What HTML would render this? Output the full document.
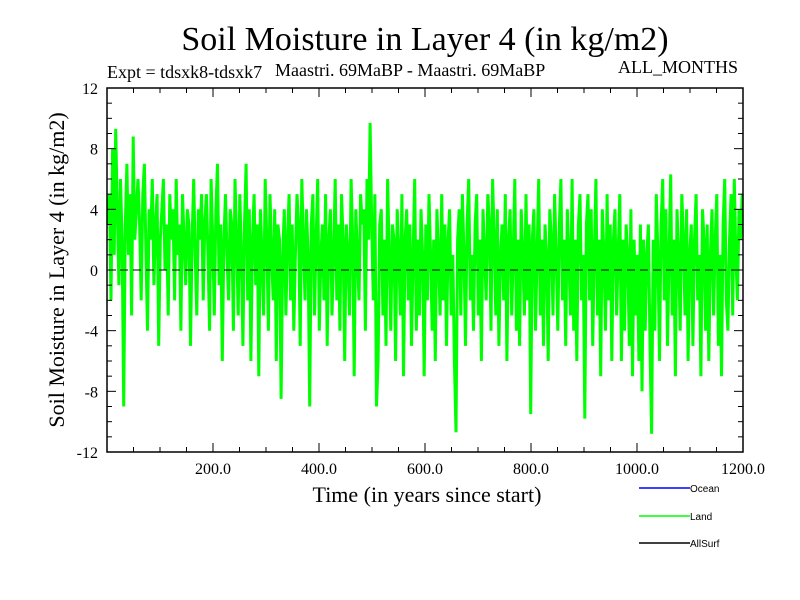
<!DOCTYPE html>
<html><head><meta charset="utf-8"><style>
body{margin:0;background:#fff;}
svg{display:block;font-family:"Liberation Serif",serif;}
</style></head><body>
<svg id="chart" width="800" height="600">
<text x="425" y="50" font-size="34" text-anchor="middle">Soil Moisture in Layer 4 (in kg/m2)</text>
<text x="107" y="78" font-size="18">Expt = tdsxk8-tdsxk7</text>
<text x="275" y="76" font-size="18">Maastri.  69MaBP - Maastri.  69MaBP</text>
<text x="618" y="73" font-size="18">ALL_MONTHS</text>
<text x="427" y="502" font-size="22" text-anchor="middle">Time (in years since start)</text>
<text transform="translate(64,270) rotate(-90)" font-size="22" text-anchor="middle">Soil Moisture in Layer 4 (in kg/m2)</text>
<g id="series"></g>
<g id="axes"></g>
<g font-family="Liberation Sans, sans-serif" font-size="10">
<line x1="639" y1="488" x2="690" y2="488" stroke="#0000ff" stroke-width="1.5"/>
<text x="690" y="492">Ocean</text>
<line x1="639" y1="516" x2="690" y2="516" stroke="#00ff00" stroke-width="1.5"/>
<text x="690" y="520">Land</text>
<line x1="639" y1="543" x2="690" y2="543" stroke="#000" stroke-width="1.5"/>
<text x="690" y="547">AllSurf</text>
</g>
</svg>
<script>
const years = [];
const landValues = [
3,5,-2,8,1,9.3,4,-1,6,2,-9,3,7,1,5,-3,8.8,2,4,6,
3,-2,5,7,1,-4,4,2,6,-1,3,5,-5,2,4,6,0,3,-3,5,
2,4,-2,6,1,3,-4,5,2,-1,4,3,-5,2,6,1,-3,4,2,5,
-2,3,5,1,-4,6,2,-3,4,7,-1,3,-6,2,5,1,-2,4,3,-4,
6,2,-3,5,1,-5,3,7,-2,4,-6,2,5,-1,3,-7,4,1,-3,6,
2,-4,5,1,-2,4,-6,3,2,-8.5,1,4,-3,2,5,-2,3,-4,1,5,
3,-5,6,2,-2,4,1,-9,3,5,-3,2,6,-4,1,3,-2,5,-5,2,
4,-3,1,6,-2,3,-4,5,2,-6,3,1,-3,6,2,-7,4,1,-2,5,
3,4,-4,6,2,9.7,3,-2,5,-9,-6,3,4,-3,2,-5,6,1,-4,3,
2,-6,4,1,-3,5,-7,2,4,-2,3,-5,1,6,-4,2,-3,4,1,-7,
3,-2,5,1,-4,2,-6,4,1,-3,5,-2,3,-5,2,4,-3,1,-6,-10.7,
2,4,-3,5,1,-5,3,6,-2,1,-4,3,5,-3,2,-6,4,1,-2,5,
3,-4,6,2,-3,4,-5,1,3,-2,5,-6,2,4,-3,1,6,-4,2,-5,
4,1,-3,5,-2,3,-9.5,2,4,-4,1,6,-3,2,-5,3,1,-6,4,2,
-3,5,1,-4,3,6,-2,2,-5,4,1,-3,6,-4,2,-6,3,5,-2,1,
-9.8,3,5,-2,4,-5,1,6,-3,2,-7,4,1,-4,5,-2,3,-6,2,4,
-3,1,5,-6,2,-4,3,1,-5,4,-7,2,-3,1,-6,3,-8,2,-4,1,
3,-5,-10.8,2,-4,5,1,-6,3,6,-2,4,-5,1,6.3,-3,2,-7,4,1,
-4,5,2,-3,4,-6,1,3,-5,2,5,-2,1,-7,4,2,-4,3,-6,1,
4,-3,2,5,-5,1,-7,3,6,-2,-4,2,5,-3,6,1,-2,4,2,5
];
const yTicks = [-12,-8,-4,0,4,8,12];
const xTicks = [200,400,600,800,1000,1200];
for (let i = 0; i < landValues.length; i++) years.push(i * 3 + 1.5);

const X0 = 107, X1 = 743, Y0 = 88, Y1 = 452;
const xScale = v => X0 + v / 1200 * (X1 - X0);
const yScale = v => Y1 - (v + 12) / 24 * (Y1 - Y0);
const NS = "http://www.w3.org/2000/svg";
const ser = document.getElementById('series');
const ax = document.getElementById('axes');

const pl = document.createElementNS(NS, 'polyline');
pl.setAttribute('points', landValues.map((v, i) => xScale(years[i]).toFixed(1) + ',' + yScale(v).toFixed(1)).join(' '));
pl.setAttribute('fill', 'none');
pl.setAttribute('stroke', '#00ff00');
pl.setAttribute('stroke-width', '3');
pl.setAttribute('stroke-linejoin', 'bevel');


ser.appendChild(pl);

function line(x1, y1, x2, y2, w, dash) {
  const l = document.createElementNS(NS, 'line');
  l.setAttribute('x1', x1); l.setAttribute('y1', y1);
  l.setAttribute('x2', x2); l.setAttribute('y2', y2);
  l.setAttribute('stroke', '#000'); l.setAttribute('stroke-width', w);
  if (dash) l.setAttribute('stroke-dasharray', dash);
  ax.appendChild(l);
  return l;
}
const zl = line(X0, yScale(0), X1, yScale(0), 1, '8,5');


const fr = document.createElementNS(NS, 'rect');
fr.setAttribute('x', X0); fr.setAttribute('y', Y0);
fr.setAttribute('width', X1 - X0); fr.setAttribute('height', Y1 - Y0);
fr.setAttribute('fill', 'none'); fr.setAttribute('stroke', '#000'); fr.setAttribute('stroke-width', '1.5');


ax.appendChild(fr);
for (let v = -12; v <= 12; v++) {
  const y = yScale(v), major = v % 4 === 0, len = major ? 9 : 5;
  line(X0, y, X0 + len, y, 1);
  line(X1, y, X1 - len, y, 1);
}
for (let v = 50; v < 1200; v += 50) {
  const x = xScale(v), major = v % 200 === 0, len = major ? 9 : 5;
  line(x, Y1, x, Y1 - len, 1);
  line(x, Y0, x, Y0 + len, 1);
}
yTicks.forEach(v => {
  const t = document.createElementNS(NS, 'text');
  t.setAttribute('x', X0 - 9); t.setAttribute('y', yScale(v) + 6);
  t.setAttribute('text-anchor', 'end'); t.setAttribute('font-size', '16');
  t.textContent = v;
  
  
  ax.appendChild(t);
});
xTicks.forEach(v => {
  const t = document.createElementNS(NS, 'text');
  t.setAttribute('x', xScale(v)); t.setAttribute('y', Y1 + 22);
  t.setAttribute('text-anchor', 'middle'); t.setAttribute('font-size', '16');
  t.textContent = v.toFixed(1);
  
  
  ax.appendChild(t);
});
</script>
</body></html>
